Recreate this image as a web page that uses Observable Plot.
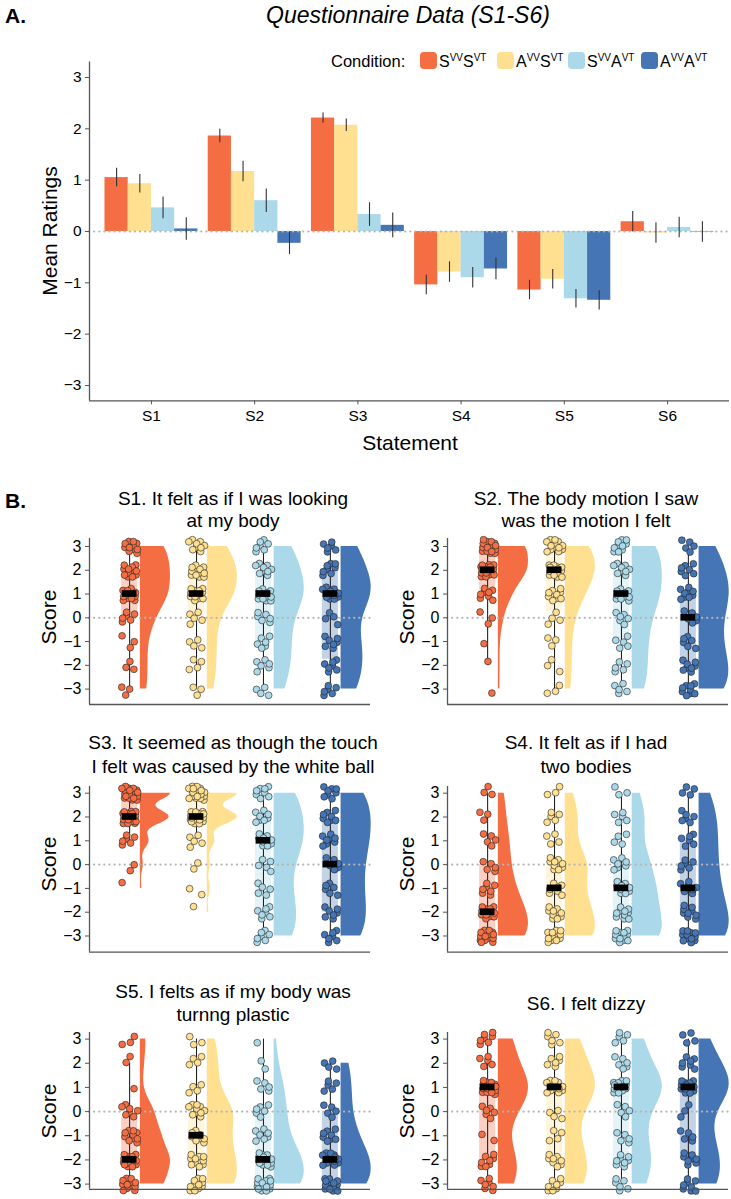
<!DOCTYPE html>
<html><head><meta charset="utf-8">
<script src="https://cdn.jsdelivr.net/npm/d3@7"></script>
<script src="https://cdn.jsdelivr.net/npm/@observablehq/plot@0.6"></script>
<style>
body{margin:0;background:#fff;overflow:hidden}
#root{position:relative;width:731px;height:1199px;font-family:"Liberation Sans",Arial,sans-serif;color:#000;overflow:hidden}
.abs{position:absolute;white-space:nowrap;line-height:1}
.sup{font-size:10px;position:relative;top:-6px}
</style></head><body><div id="root"></div>
<script>
// ---------- DATA ----------
const conditions = ["SVVSVT", "AVVSVT", "SVVAVT", "AVVAVT"];
const conditionLabels = [["S","VV","S","VT"],["A","VV","S","VT"],["S","VV","A","VT"],["A","VV","A","VT"]];
const colors = ["#F46D43", "#FEE090", "#ABD9E9", "#4575B4"];
const statements = ["S1", "S2", "S3", "S4", "S5", "S6"];
const yTicks = [-3, -2, -1, 0, 1, 2, 3];

// Panel A: mean ratings and standard errors per condition (S1..S6)
const meanSVVSVT = [1.05, 1.86, 2.21, -1.04, -1.14, 0.19];
const meanAVVSVT = [0.93, 1.17, 2.07, -0.79, -0.93, -0.03];
const meanSVVAVT = [0.46, 0.60, 0.33, -0.90, -1.31, 0.08];
const meanAVVAVT = [0.05, -0.23, 0.12, -0.73, -1.34, -0.01];
const seSVVSVT = [0.18, 0.13, 0.10, 0.19, 0.19, 0.20];
const seAVVSVT = [0.18, 0.20, 0.12, 0.20, 0.19, 0.20];
const seSVVAVT = [0.21, 0.23, 0.23, 0.20, 0.18, 0.20];
const seAVVAVT = [0.22, 0.22, 0.24, 0.21, 0.19, 0.20];

// Panel B: number of responses at each score level (-3..3), per condition
const scoreLevels = [-3, -2, -1, 0, 1, 2, 3];
const countsS1 = [[3,3,3,6,12,12,11],[3,4,4,5,12,13,9],[4,6,6,6,12,9,7],[6,7,7,4,12,8,6]];
const countsS2 = [[1,1,1,3,8,18,18],[3,3,3,4,9,15,13],[5,5,5,6,10,9,10],[9,8,6,6,9,7,5]];
const countsS3 = [[0,0,1,2,6,20,21],[0,1,2,2,5,20,20],[7,7,5,5,10,8,8],[7,7,6,6,8,8,8]];
const countsS4 = [[15,12,7,5,5,3,3],[12,10,7,9,4,5,3],[12,10,9,7,4,5,3],[12,9,7,6,6,6,4]];
const countsS5 = [[12,15,10,7,1,2,3],[11,10,8,10,4,4,3],[15,14,7,6,5,2,1],[14,14,8,5,5,4,0]];
const countsS6 = [[7,8,2,6,15,5,7],[8,8,4,4,14,6,6],[6,8,5,5,15,6,5],[8,8,5,3,15,7,4]];
const statementTitles = [
  ["S1. It felt as if I was looking", "at my body"],
  ["S2. The body motion I saw", "was the motion I felt"],
  ["S3. It seemed as though the touch", "I felt was caused by the white ball"],
  ["S4. It felt as if I had", "two bodies"],
  ["S5. I felts as if my body was", "turnng plastic"],
  ["S6. I felt dizzy"]
];

// ---------- HELPERS ----------
const FONT = "Liberation Sans, Arial, sans-serif";
const root = document.getElementById("root");
const fmt = d => (d < 0 ? "\u2212" : "") + Math.abs(d);
function addText(html, x, y, style = {}, anchor = "center") {
  const d = document.createElement("div");
  d.className = "abs";
  d.innerHTML = html;
  const tx = anchor === "left" ? "0" : "-50%";
  Object.assign(d.style, {left: x + "px", top: y + "px", transform: `translate(${tx},-50%)`}, style);
  root.appendChild(d);
  return d;
}
function place(svg, left, top) {
  const w = document.createElement("div");
  w.style.position = "absolute"; w.style.left = left + "px"; w.style.top = top + "px";
  w.appendChild(svg); root.appendChild(w);
}
const frac = v => v - Math.floor(v);
function nrd0(x) {
  const sd = d3.deviation(x);
  const iqr = d3.quantile(x, 0.75) - d3.quantile(x, 0.25);
  let lo = Math.min(sd, iqr / 1.34);
  if (!(lo > 0)) lo = sd || Math.abs(x[0]) || 1;
  return 0.9 * lo * Math.pow(x.length, -0.2);
}
function kde(x, bw, t) {
  return d3.sum(x, v => Math.exp(-0.5 * ((t - v) / bw) ** 2)) / (x.length * bw * Math.sqrt(2 * Math.PI));
}

// ---------- PANEL A ----------
const means = [meanSVVSVT, meanAVVSVT, meanSVVAVT, meanAVVAVT];
const ses = [seSVVSVT, seAVVSVT, seSVVAVT, seAVVAVT];
const barData = [];
statements.forEach((s, si) => conditions.forEach((c, ci) =>
  barData.push({s, si, c, ci, mean: means[ci][si], se: ses[ci][si]})));
const dodge = 0.9 / conditions.length;
const bx = d => d.si + 1 + (d.ci - (conditions.length - 1) / 2) * dodge;

const plotA = Plot.plot({
  width: 731, height: 405, marginLeft: 89, marginRight: 2, marginTop: 11.6, marginBottom: 54.6,
  style: {fontFamily: FONT, background: "transparent", overflow: "visible", color: "#000"},
  x: {domain: [0.4, statements.length + 0.6], axis: null},
  y: {domain: [-3.3, 3.3], axis: null},
  color: {domain: conditions, range: colors},
  marks: [
    Plot.rectY(barData, {x1: d => bx(d) - dodge / 2, x2: d => bx(d) + dodge / 2, y1: 0, y2: "mean", fill: "c"}),
    Plot.ruleY([0], {stroke: "#b5b5b5", strokeWidth: 2.2, strokeDasharray: "0.1,5", strokeLinecap: "round"}),
    Plot.ruleX(barData, {x: bx, y1: d => d.mean - d.se, y2: d => d.mean + d.se, stroke: "#333", strokeWidth: 1.1}),
    Plot.axisY({ticks: yTicks, tickFormat: fmt, tickSize: 4, tickPadding: 4, fontSize: 15.5, label: null, stroke: "#555"}),
    Plot.axisX({ticks: statements.map((s, i) => i + 1), tickFormat: i => statements[i - 1], tickSize: 4, tickPadding: 5, fontSize: 15.5, label: null, stroke: "#555"}),
    Plot.ruleX([0.4], {stroke: "#555", strokeWidth: 1.3}),
    Plot.ruleY([-3.3], {stroke: "#555", strokeWidth: 1.3})
  ]
});
place(plotA, 0, 50);

addText("A.", 5, 15, {fontSize: "21px", fontWeight: "bold"}, "left");
addText("Questionnaire Data (S1-S6)", 408, 15, {fontSize: "23px", fontStyle: "italic"});
addText("Mean Ratings", 49, 231, {fontSize: "21px", transform: "translate(-50%,-50%) rotate(-90deg)"});
addText("Statement", 410, 442, {fontSize: "21px"});
// legend
addText("Condition:", 331, 61, {fontSize: "16.5px"}, "left");
const swatchX = [420, 497, 568, 641];
conditions.forEach((c, ci) => {
  const sw = document.createElement("div");
  Object.assign(sw.style, {position: "absolute", left: swatchX[ci] + "px", top: "52px", width: "17px", height: "17px", background: colors[ci], borderRadius: "4px"});
  root.appendChild(sw);
  const L = conditionLabels[ci];
  addText(`${L[0]}<span class="sup">${L[1]}</span>${L[2]}<span class="sup">${L[3]}</span>`, swatchX[ci] + 19, 62, {fontSize: "16px"}, "left");
});

// ---------- PANEL B ----------
addText("B.", 5, 500, {fontSize: "21px", fontWeight: "bold"}, "left");
const allCounts = [countsS1, countsS2, countsS3, countsS4, countsS5, countsS6];
const rows = [
  {t3: 546, b3: 688.6, ft: 538, fb: 704, title: [498, 520]},
  {t3: 792.7, b3: 935.5, ft: 786, fb: 951.7, title: [742.3, 765.7]},
  {t3: 1038.3, b3: 1183.3, ft: 1031.7, fb: 1188.5, title: [991, 1014.3]}
];
const cols = [{left: 0, titleX: 233, scoreX: 48}, {left: 358, titleX: 586, scoreX: 406}];

allCounts.forEach((counts, si) => {
  const R = rows[Math.floor(si / 2)], C = cols[si % 2];
  const unit = (R.b3 - R.t3) / 6;
  const yHi = 3 + (R.t3 - R.ft) / unit, yLo = -3 - (R.fb - R.b3) / unit;
  const boxes = [], pts = [], vio = [];
  counts.forEach((cnt, ci) => {
    const vals = [];
    cnt.forEach((n, li) => { for (let k = 0; k < n; k++) vals.push(scoreLevels[li]); });
    const q1 = d3.quantile(vals, 0.25), med = d3.quantile(vals, 0.5), q3 = d3.quantile(vals, 0.75);
    const iqr = q3 - q1;
    const lo = d3.min(vals.filter(v => v >= q1 - 1.5 * iqr));
    const hi = d3.max(vals.filter(v => v <= q3 + 1.5 * iqr));
    const idx = ci + 1;
    boxes.push({c: conditions[ci], idx, q1, q3, med, lo, hi});
    // deterministic 2-D jitter (R2 low-discrepancy sequence) for display only
    vals.forEach((v, k) => pts.push({
      c: conditions[ci], v,
      x: idx + (frac(0.5 + (k + 7 * ci + 3 * si) * 0.7548776662) - 0.5) * 0.24,
      y: v + (frac(0.5 + (k + 7 * ci + 3 * si) * 0.5698402910) - 0.5) * 0.58
    }));
    const bw = nrd0(vals);
    const vmin = d3.min(vals), vmax = d3.max(vals);
    const grid = d3.range(101).map(i => vmin + (vmax - vmin) * i / 100);
    const dens = grid.map(t => kde(vals, bw, t));
    const dmax = d3.max(dens);
    grid.forEach((t, i) => vio.push({c: conditions[ci], v: t, x0: idx + 0.16, x: idx + 0.16 + 0.45 * dens[i] / dmax}));
  });
  const mt = 4, mb = 4;
  const plot = Plot.plot({
    width: 373, height: (R.fb - R.ft) + mt + mb, marginLeft: 89, marginRight: 3, marginTop: mt, marginBottom: mb,
    style: {fontFamily: FONT, background: "transparent", overflow: "visible", color: "#000"},
    x: {domain: [0.4, 4.6], axis: null},
    y: {domain: [yLo, yHi], axis: null},
    color: {domain: conditions, range: colors},
    marks: [
      Plot.rect(boxes, {x1: d => d.idx - 0.12, x2: d => d.idx + 0.12, y1: "q1", y2: "q3", fill: "c", fillOpacity: 0.32}),
      Plot.areaX(vio, {y: "v", x1: "x0", x2: "x", z: "c", fill: "c", curve: "linear"}),
      Plot.ruleY([0], {stroke: "#b5b5b5", strokeWidth: 2.2, strokeDasharray: "0.1,5", strokeLinecap: "round"}),
      Plot.ruleX(boxes, {x: "idx", y1: "lo", y2: "hi", stroke: "#111", strokeWidth: 1}),
      Plot.dot(pts, {x: "x", y: "y", r: 3.4, fill: "c", stroke: "#222", strokeWidth: 0.6}),
      Plot.rect(boxes, {x1: d => d.idx - 0.11, x2: d => d.idx + 0.11, y1: d => d.med - 0.14, y2: d => d.med + 0.14, fill: "black"}),
      Plot.axisY({ticks: yTicks, tickFormat: fmt, tickSize: 4, tickPadding: 4, fontSize: 16, label: null, stroke: "#555"}),
      Plot.ruleX([0.4], {stroke: "#555", strokeWidth: 1.3}),
      Plot.ruleY([yLo], {stroke: "#555", strokeWidth: 1.3})
    ]
  });
  place(plot, C.left, R.ft - mt);
  const T = statementTitles[si];
  if (T.length === 2) {
    addText(T[0], C.titleX, R.title[0], {fontSize: "19px"});
    addText(T[1], C.titleX, R.title[1], {fontSize: "19px"});
  } else {
    addText(T[0], C.titleX, (R.title[0] + R.title[1]) / 2, {fontSize: "19px"});
  }
  addText("Score", C.scoreX, R.t3 + 3 * unit, {fontSize: "21px", transform: "translate(-50%,-50%) rotate(-90deg)"});
});
</script></body></html>
